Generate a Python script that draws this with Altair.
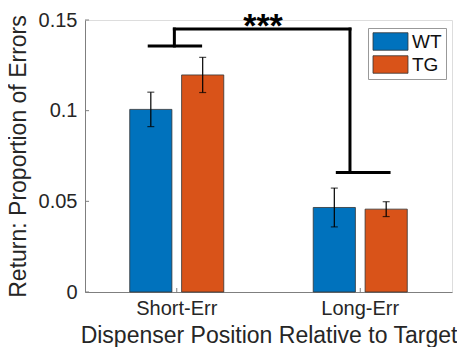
import altair as alt
import pandas as pd

groups = ["Short-Err", "Long-Err"]
genotypes = ["WT", "TG"]
wt_mean = [0.1007, 0.0466]
tg_mean = [0.1197, 0.0457]
wt_sem = [0.0095, 0.0107]
tg_sem = [0.0097, 0.0041]
colors = ["#0072BD", "#D95319"]

y_ticks = [0, 0.05, 0.1, 0.15]

# significance bracket segments (x in group units: 1 = Short-Err, 2 = Long-Err)
br_x = [0.85, 0.987, 0.987, 1.944, 1.875]
br_x2 = [1.13, 0.987, 1.944, 1.944, 2.157]
br_y = [0.1357, 0.1357, 0.145, 0.145, 0.0659]
br_y2 = [0.1357, 0.145, 0.145, 0.0659, 0.0659]
star_x = [1.47]
star_y = [0.1405]
star_text = ["***"]

rows = []
for i, g in enumerate(groups):
    rows.append({"group": g, "geno": "WT", "mean": wt_mean[i],
                 "lo": wt_mean[i] - wt_sem[i], "hi": wt_mean[i] + wt_sem[i]})
    rows.append({"group": g, "geno": "TG", "mean": tg_mean[i],
                 "lo": tg_mean[i] - tg_sem[i], "hi": tg_mean[i] + tg_sem[i]})
df = pd.DataFrame(rows)

br = pd.DataFrame({"x": br_x, "x2": br_x2, "y": br_y, "y2": br_y2})
stars = pd.DataFrame({"x": star_x, "y": star_y, "t": star_text})
yt = pd.DataFrame({"v": y_ticks})
xt = pd.DataFrame({"g": [1, 2]})

yscale = alt.Scale(domain=[0, 0.15], nice=False, zero=True)
xband = alt.X("group:N", sort=groups,
              scale=alt.Scale(paddingInner=0.4875, paddingOuter=0.24375),
              axis=alt.Axis(title="Dispenser Position Relative to Target",
                            labelAngle=0, ticks=False, labelFontSize=20,
                            titleFontSize=23, titleFontWeight="normal",
                            labelPadding=6, titlePadding=6,
                            domainColor="#7f7f7f", labelColor="#262626",
                            titleColor="#262626"))
xoff = alt.XOffset("geno:N", sort=genotypes,
                   scale=alt.Scale(paddingInner=0.187, paddingOuter=0))
yenc = alt.Y("mean:Q", scale=yscale,
             axis=alt.Axis(title="Return: Proportion of Errors", values=y_ticks,
                           labelExpr="format(datum.value, '~g')", ticks=False,
                           grid=False, labelFontSize=20, titleFontSize=23,
                           titleFontWeight="normal",
                           labelPadding=8, titlePadding=8,
                           domainColor="#7f7f7f", labelColor="#262626",
                           titleColor="#262626"))

bars = alt.Chart(df).mark_bar(stroke="#333333", strokeWidth=0.8).encode(
    x=xband, xOffset=xoff, y=yenc,
    color=alt.Color("geno:N", sort=genotypes,
                    scale=alt.Scale(domain=genotypes, range=colors),
                    legend=alt.Legend(orient="none", legendX=283, legendY=8,
                                      title=None,
                                      symbolType="M-2,-1H2V1H-2Z",
                                      symbolSize=306, symbolOffset=9,
                                      symbolStrokeColor="#333333",
                                      symbolStrokeWidth=0.8, symbolOpacity=1,
                                      labelFontSize=19, labelColor="#111111",
                                      labelOffset=12, strokeColor="#999999",
                                      fillColor="white", padding=4,
                                      rowPadding=2)),
)
err = alt.Chart(df).mark_rule(color="black", strokeWidth=1.2).encode(
    x=xband, xOffset=xoff, y=alt.Y("lo:Q", scale=yscale), y2="hi:Q")
cap_hi = alt.Chart(df).mark_tick(color="black", thickness=1.2, size=7,
                                 orient="horizontal").encode(
    x=xband, xOffset=xoff, y=alt.Y("hi:Q", scale=yscale))
cap_lo = alt.Chart(df).mark_tick(color="black", thickness=1.2, size=7,
                                 orient="horizontal").encode(
    x=xband, xOffset=xoff, y=alt.Y("lo:Q", scale=yscale))

band_layer = alt.layer(bars, err, cap_hi, cap_lo)

xq = alt.Scale(domain=[0.5, 2.5], nice=False, zero=False)
bracket = alt.Chart(br).mark_rule(color="black", strokeWidth=3,
                                  strokeCap="square").encode(
    x=alt.X("x:Q", scale=xq, axis=None), x2="x2:Q",
    y=alt.Y("y:Q", scale=yscale), y2="y2:Q")
star = alt.Chart(stars).mark_text(fontSize=34, fontWeight="bold",
                                  baseline="alphabetic", color="black").encode(
    x=alt.X("x:Q", scale=xq, axis=None), y=alt.Y("y:Q", scale=yscale),
    text="t:N")
ytick = alt.Chart(yt).mark_rule(color="#7f7f7f", strokeWidth=1).encode(
    x=alt.X("a:Q", scale=xq, axis=None), x2="b:Q",
    y=alt.Y("v:Q", scale=yscale)).transform_calculate(a="0.5", b="0.522")
xtick = alt.Chart(xt).mark_rule(color="#7f7f7f", strokeWidth=1).encode(
    x=alt.X("g:Q", scale=xq, axis=None),
    y=alt.Y("a:Q", scale=yscale), y2="b:Q").transform_calculate(a="0", b="0.0022")

q_layer = alt.layer(ytick, xtick, bracket, star)

chart = alt.layer(band_layer, q_layer).resolve_scale(x="independent").properties(
    width=367, height=272,
    autosize=alt.AutoSizeParams(type="none"),
    padding={"left": 77, "top": 12, "right": 5, "bottom": 55},
).configure_view(stroke=None).configure(font="Liberation Sans")

chart.save("out.html", embed_options={"renderer": "svg", "actions": False})
